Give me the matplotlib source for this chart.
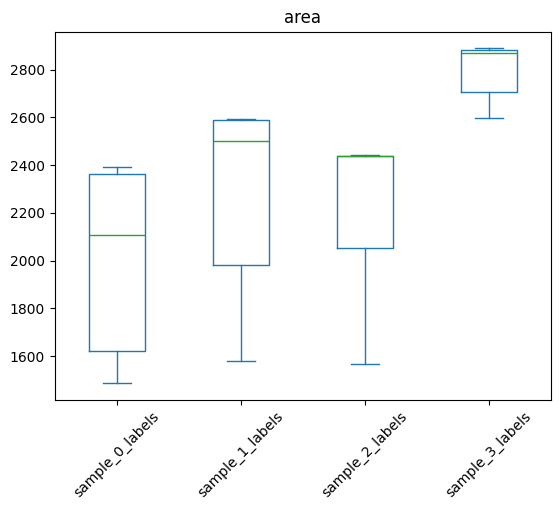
import matplotlib
matplotlib.use("Agg")
import matplotlib.pyplot as plt
import pandas as pd

labels = ["sample_0_labels", "sample_1_labels", "sample_2_labels", "sample_3_labels"]

# five-number summaries: low whisker, q1, median, q3, high whisker
sample_0 = [1487, 1621, 2107, 2364, 2393]
sample_1 = [1579, 1980, 2501, 2590, 2593]
sample_2 = [1567, 2054, 2438, 2439, 2441]
sample_3 = [2597, 2707, 2872, 2883, 2889]

df = pd.DataFrame(dict(zip(labels, [sample_0, sample_1, sample_2, sample_3])))

fig, ax = plt.subplots(figsize=(5.6, 5.12), dpi=100)
df.plot.box(ax=ax, rot=45, title="area")
fig.subplots_adjust(left=0.098, right=0.984, top=0.938, bottom=0.219)
fig.savefig("out.png", dpi=100)
